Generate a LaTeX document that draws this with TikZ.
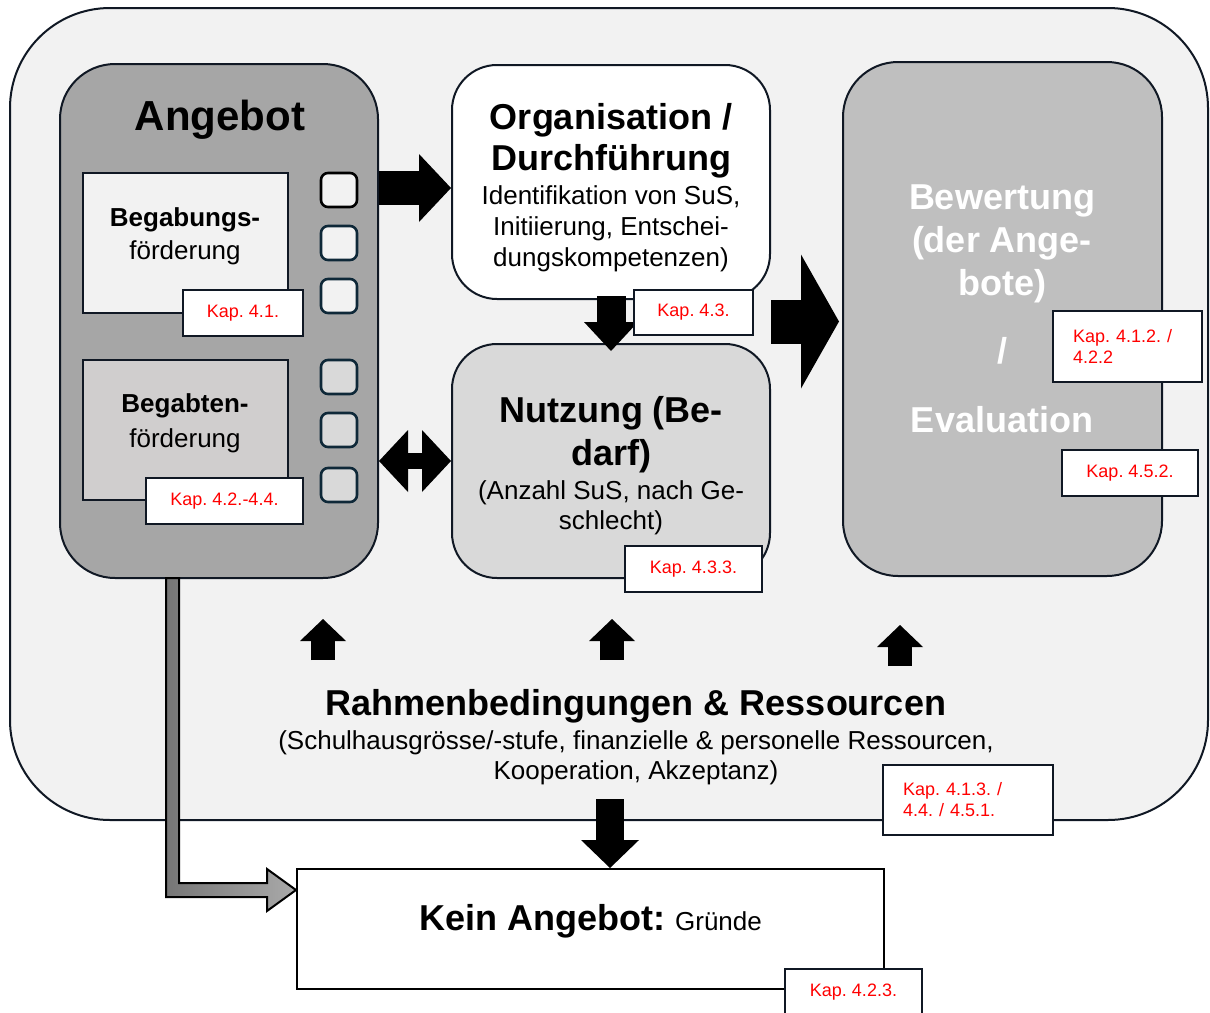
\documentclass[tikz,border=0pt]{standalone}
\usepackage{fontspec}
\setmainfont{Liberation Sans}
\usetikzlibrary{arrows.meta, positioning, calc}
\definecolor{bfframe}{RGB}{242,242,242}
\definecolor{bfline}{RGB}{16,24,36}
\definecolor{bfdark}{RGB}{166,166,166}
\definecolor{bfmid}{RGB}{191,191,191}
\definecolor{bflight}{RGB}{217,217,217}
\definecolor{bfpale}{RGB}{208,206,206}
\definecolor{bfteal}{RGB}{14,40,56}
\definecolor{bfred}{RGB}{255,0,0}
\definecolor{bfshaftA}{RGB}{118,118,118}
\definecolor{bfshaftB}{RGB}{170,170,170}
\newcommand{\setfs}[2]{\fontsize{#1}{#2}\selectfont}
\frenchspacing

\begin{document}
\begin{tikzpicture}[
    x=1pt, y=-1pt,
    %% ── box styles ───────────────────────────────────────────────────────────
    panel/.style={
        draw=bfline, line width=2pt, rounded corners=#1, inner sep=0pt
    },
    panel/.default=45pt,
    plainbox/.style={
        draw=bfline, line width=2pt, inner sep=0pt
    },
    slot/.style={
        draw=bfteal, line width=2.6pt, rounded corners=7pt,
        minimum width=36pt, minimum height=34pt, inner sep=0pt
    },
    kapbox/.style={
        draw=bfline, line width=2pt, fill=white, text=bfred,
        font=\setfs{18}{21}, inner sep=0pt, align=center
    },
    %% ── text styles ──────────────────────────────────────────────────────────
    title/.style={
        font=\setfs{36}{41}\bfseries, align=center, inner sep=0pt
    },
    subtext/.style={
        font=\setfs{26}{31}, align=center, inner sep=0pt
    },
    %% ── arrow styles ─────────────────────────────────────────────────────────
    fatarrow/.style n args={3}{
        draw=black, line width=#1,
        -{Triangle[length=#2, width=#3, line width=0pt]}
    },
    fatdouble/.style n args={3}{
        draw=black, line width=#1,
        {Triangle[length=#2, width=#3, line width=0pt]}-{Triangle[length=#2, width=#3, line width=0pt]}
    },
]
\useasboundingbox (0,0) rectangle (1210,1012);

%% ── Outer frame ─────────────────────────────────────────────────────────────
\node[panel=100pt, fill=bfframe, minimum width=1198pt, minimum height=812pt]
    (frame) at (609,414) {};

%% ── Angebot column ──────────────────────────────────────────────────────────
\node[panel=55pt, fill=bfdark, minimum width=318pt, minimum height=514pt]
    (ang) at (219,321) {};
\node[title, font=\setfs{42}{48}\bfseries] (angtitle) at (220,120) {Angebot};

\node[plainbox, fill=bfframe, minimum width=205pt, minimum height=140pt]
    (begab) at (185.5,243) {};
\node[subtext, font=\setfs{26}{33}] (begabtext) at (185,236.5)
    {\textbf{Begabungs-}\\förderung};
\node[kapbox, minimum width=120pt, minimum height=46pt] (kap41) at (243,313) {Kap. 4.1.};

\node[plainbox, fill=bfpale, minimum width=205pt, minimum height=140pt]
    (begat) at (185.5,430) {};
\node[subtext, font=\setfs{26}{35}] (begattext) at (185,423.5)
    {\textbf{Begabten-}\\förderung};
\node[kapbox, minimum width=157pt, minimum height=46pt] (kap42) at (224.5,501) {Kap. 4.2.-4.4.};

%% small slots beside the two boxes
\node[slot, draw=black, fill=bfframe] (slot1) at (339,190) {};
\node[slot, fill=bfframe] (slot2) at (339,243) {};
\node[slot, fill=bfframe] (slot3) at (339,296) {};
\node[slot, fill=bflight] (slot4) at (339,377) {};
\node[slot, fill=bflight] (slot5) at (339,430) {};
\node[slot, fill=bflight] (slot6) at (339,485) {};

%% ── Organisation / Nutzung column ───────────────────────────────────────────
\node[panel, fill=white, minimum width=318pt, minimum height=234pt]
    (org) at (611,182) {};
\node[title] (orgtitle) at (611,140.5) {Organisation /\\Durchführung};
\node[subtext] (orgtext) at (611,229)
    {Identifikation von SuS,\\Initiierung, Entschei-\\dungskompetenzen)};

\node[panel, fill=bflight, minimum width=318pt, minimum height=234pt]
    (nutz) at (611,461) {};
\node[title, font=\setfs{36}{43}\bfseries] (nutztitle) at (611,434.5) {Nutzung (Be-\\darf)};
\node[subtext, font=\setfs{26}{30}] (nutztext) at (611,508)
    {(Anzahl SuS, nach Ge-\\schlecht)};

%% ── Bewertung column ────────────────────────────────────────────────────────
\node[panel=55pt, fill=bfmid, minimum width=319pt, minimum height=514pt]
    (bew) at (1002.5,319) {};
\node[title, font=\setfs{36}{43}\bfseries, text=white] (bewtext) at (1002,309)
    {Bewertung\\(der Ange-\\bote)\\[25pt]/\\[26pt]Evaluation};

%% ── Block arrows between the columns ────────────────────────────────────────
\draw[fatarrow={34pt}{32pt}{68pt}]
    ($(ang.east |- org.west)+(0,6)$) -- ($(org.west)+(0,6)$);
\draw[fatdouble={16pt}{29pt}{62pt}] (ang.east |- nutz.west) -- (nutz.west);
\draw[fatarrow={29pt}{29pt}{54pt}, shorten <=-4pt, shorten >=-8pt]
    (org.south) -- (nutz.north);
\coordinate (midright) at ($(org.south east)!0.5!(nutz.north east)$);
\draw[fatarrow={44pt}{38pt}{134pt}, shorten >=3pt] (midright) -- (bew.west |- midright);

%% ── Kap. labels on the upper boxes ──────────────────────────────────────────
\node[kapbox, minimum width=119pt, minimum height=45pt] (kap43) at (693.5,312.5) {Kap. 4.3.};
\node[kapbox, minimum width=137pt, minimum height=46pt] (kap433) at (693.5,569) {Kap. 4.3.3.};
\node[kapbox, align=left, text width=109pt, minimum width=149pt, minimum height=71pt]
    (kap412) at (1127.5,346.5) {Kap. 4.1.2. /\\4.2.2};
\node[kapbox, minimum width=136pt, minimum height=46pt] (kap452) at (1130,473) {Kap. 4.5.2.};

%% ── Rahmenbedingungen ───────────────────────────────────────────────────────
\coordinate (up1) at (323,660);
\coordinate (up2) at (612,660);
\coordinate (up3) at (900,666);
\draw[fatarrow={24pt}{22pt}{46pt}] (up1) -- ++(0,-41);
\draw[fatarrow={24pt}{22pt}{46pt}] (up2) -- ++(0,-41);
\draw[fatarrow={24pt}{22pt}{46pt}] (up3) -- ++(0,-41);

\node[title] (rahmen) at (636,706) {Rahmenbedingungen \& Ressourcen};
\node[subtext, font=\setfs{26}{30}] (rahmentext) at (636,758)
    {(Schulhausgrösse/-stufe, finanzielle \& personelle Ressourcen,\\Kooperation, Akzeptanz)};

%% ── Kein Angebot ────────────────────────────────────────────────────────────
\node[plainbox, draw=black, fill=white, minimum width=587pt, minimum height=120pt]
    (kein) at (590.5,929) {};
\node[title] (keintext) at ($(kein)+(0,-8)$)
    {Kein Angebot: {\mdseries\setfs{26}{30}Gründe}};

\coordinate (downtop) at (610,799);
\draw[fatarrow={28pt}{28pt}{58pt}] (downtop) -- (downtop |- kein.north);

%% grey elbow arrow from Angebot down to Kein Angebot
\coordinate (elbowtip) at ($(kein.west)+(0,-39)$);
\draw[black, line width=2pt, left color=bfshaftA, right color=bfshaftB]
    (166,578) -- (166,897) -- (267,897) -- (267,911) -- (elbowtip)
    -- (267,869) -- (267,883) -- (179,883) -- (179,578) -- cycle;

\node[kapbox, align=left, text width=130pt, minimum width=170pt, minimum height=70pt]
    (kap413) at (968,800) {Kap. 4.1.3. /\\4.4. / 4.5.1.};
\node[kapbox, minimum width=137pt, minimum height=46pt] (kap423) at (853.5,992) {Kap. 4.2.3.};

\end{tikzpicture}
\end{document}
